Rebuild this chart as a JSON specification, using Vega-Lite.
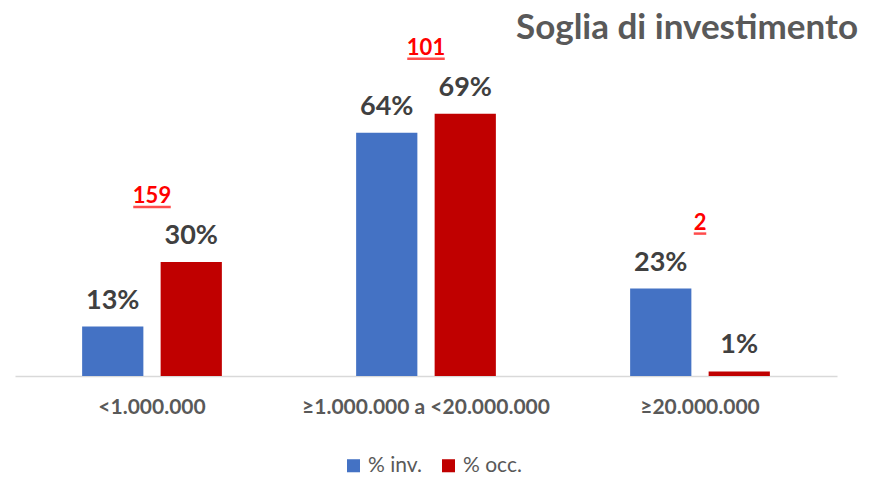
{
  "$schema": "https://vega.github.io/schema/vega-lite/v6.json",
  "width": 822,
  "height": 304,
  "padding": {"left": 15, "top": 10, "right": 10, "bottom": 5},
  "background": "white",
  "title": {
    "text": "Soglia di investimento",
    "anchor": "end",
    "dx": 21,
    "fontSize": 35,
    "font": "Lato",
    "fontWeight": "bold",
    "color": "#595959",
    "offset": -9
  },
  "data": {
    "values": [
      {"categoria": "<1.000.000", "serie": "% inv.", "valore": 13, "etichetta": "13%", "n": null},
      {"categoria": "<1.000.000", "serie": "% occ.", "valore": 30, "etichetta": "30%", "n": "159"},
      {"categoria": "≥1.000.000 a <20.000.000", "serie": "% inv.", "valore": 64, "etichetta": "64%", "n": null},
      {"categoria": "≥1.000.000 a <20.000.000", "serie": "% occ.", "valore": 69, "etichetta": "69%", "n": "101"},
      {"categoria": "≥20.000.000", "serie": "% inv.", "valore": 23, "etichetta": "23%", "n": null},
      {"categoria": "≥20.000.000", "serie": "% occ.", "valore": 1.2, "etichetta": "1%", "n": "2"}
    ]
  },
  "encoding": {
    "x": {
      "field": "categoria",
      "type": "nominal",
      "sort": null,
      "scale": {"paddingInner": 0.49, "paddingOuter": 0.245},
      "axis": {
        "title": null,
        "labelAngle": 0,
        "ticks": false,
        "domainColor": "#d9d9d9",
        "domainWidth": 1.5,
        "labelFont": "Lato",
        "labelFontWeight": "bold",
        "labelFontSize": 21,
        "labelColor": "#595959",
        "labelPadding": 20,
        "labelLimit": 0
      }
    }
  },
  "layer": [
    {
      "mark": {"type": "bar"},
      "encoding": {
        "xOffset": {"field": "serie", "type": "nominal", "scale": {"paddingInner": 0.22}},
        "y": {"field": "valore", "type": "quantitative", "scale": {"domain": [0, 80]}, "axis": null},
        "color": {
          "field": "serie",
          "type": "nominal",
          "scale": {"domain": ["% inv.", "% occ."], "range": ["#4472C4", "#C00000"]},
          "legend": {
            "title": null,
            "orient": "none",
            "legendX": 328,
            "legendY": 383,
            "direction": "horizontal",
            "symbolType": "square",
            "symbolSize": 170,
            "symbolStrokeWidth": 0,
            "labelFontSize": 21,
            "columnPadding": 16
          }
        }
      }
    },
    {
      "mark": {"type": "text", "baseline": "alphabetic", "dy": -18, "font": "Lato", "fontWeight": "bold", "fontSize": 27, "color": "#404040"},
      "encoding": {
        "xOffset": {"field": "serie", "type": "nominal", "scale": {"paddingInner": 0.22}},
        "y": {"field": "valore", "type": "quantitative"},
        "text": {"field": "etichetta"}
      }
    },
    {
      "transform": [
        {"joinaggregate": [{"op": "max", "field": "valore", "as": "massimo"}], "groupby": ["categoria"]},
        {"filter": "datum.n != null"}
      ],
      "mark": {"type": "text", "baseline": "alphabetic", "dy": -59, "font": "Lato", "fontWeight": "bold", "fontSize": 22, "color": "#FF0000"},
      "encoding": {
        "y": {"field": "massimo", "type": "quantitative"},
        "text": {"field": "n"}
      }
    },
    {
      "transform": [
        {"joinaggregate": [{"op": "max", "field": "valore", "as": "massimo"}], "groupby": ["categoria"]},
        {"filter": "datum.n != null"},
        {"calculate": "length(datum.n) * 12.5", "as": "lunghezza"}
      ],
      "mark": {"type": "tick", "orient": "horizontal", "thickness": 2.5, "yOffset": -55, "color": "#FF0000"},
      "encoding": {
        "y": {"field": "massimo", "type": "quantitative"},
        "size": {"field": "lunghezza", "type": "quantitative", "scale": null, "legend": null}
      }
    }
  ],
  "config": {
    "view": {"stroke": null},
    "legend": {"labelFont": "Lato", "labelFontSize": 21, "labelColor": "#595959", "symbolSize": 170}
  }
}
